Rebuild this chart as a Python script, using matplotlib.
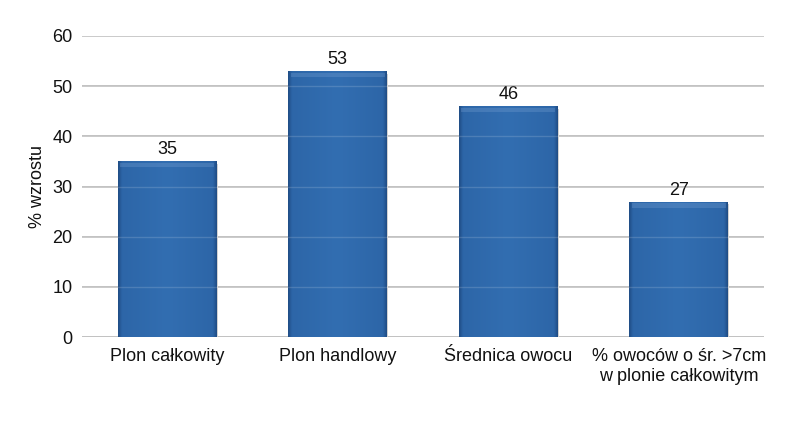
import numpy as np
import matplotlib.pyplot as plt
from matplotlib.colors import LinearSegmentedColormap

plt.rcParams['font.family'] = ['Liberation Sans', 'DejaVu Sans']

categories = ['Plon całkowity', 'Plon handlowy', 'Średnica owocu',
              '% owoców o śr. >7cm\nw plonie całkowitym']
values = [35, 53, 46, 27]
yticks = [0, 10, 20, 30, 40, 50, 60]

fig = plt.figure(figsize=(8, 4.21), dpi=100)
ax = fig.add_axes([0.1025, 0.1995, 0.8525, 0.715])

x = np.arange(len(categories))
bars = ax.bar(x, values, width=0.58, color='#2f69ac', zorder=2)

# bar fill: flat middle, darker thin edges
cmap = LinearSegmentedColormap.from_list(
    'b', [(0, '#1f4c85'), (0.04, '#2d66a8'), (0.5, '#326eb1'), (0.96, '#2d66a8'), (1, '#1f4c85')])
grad = np.linspace(0, 1, 256).reshape(1, -1)
for b in bars:
    x0, w, h = b.get_x(), b.get_width(), b.get_height()
    im = ax.imshow(grad, cmap=cmap, aspect='auto', extent=[x0, x0 + w, 0, h], zorder=2.1)
    im.set_clip_path(b)
    # light bevel at the top
    ax.add_patch(plt.Rectangle((x0 + 0.015, h - 1.2), w - 0.03, 0.9, color='#7aa3d4', alpha=0.3, lw=0, zorder=2.2))
    # soft shadow
    ax.add_patch(plt.Rectangle((x0 + 0.006, -0.5), w, h, color='#d2d2d2', zorder=1.5, lw=0))
    ax.text(x0 + w / 2, h + 0.6, str(h), ha='center', va='bottom', fontsize=13, color='#111111')

ax.set_xlim(-0.5, len(categories) - 0.5)
ax.set_ylim(0, 60)
ax.set_yticks(yticks)
ax.set_xticks(x)
ax.set_xticklabels(categories, fontsize=13, color='#111111')
ax.tick_params(axis='y', labelsize=13, length=0, pad=7, colors='#111111')
ax.tick_params(axis='x', length=0, pad=8)
ax.yaxis.grid(True, color='#bcbcbc', lw=1.3, zorder=0)
ax.set_axisbelow(True)
for s in ax.spines.values():
    s.set_visible(False)
ax.set_ylabel('% wzrostu', fontsize=13, color='#111111', labelpad=4)

# grid lines faintly visible through the bars
for yv in yticks[1:]:
    ax.axhline(yv, color='white', lw=1, alpha=0.15, zorder=3)

fig.savefig('out.png', dpi=100)
